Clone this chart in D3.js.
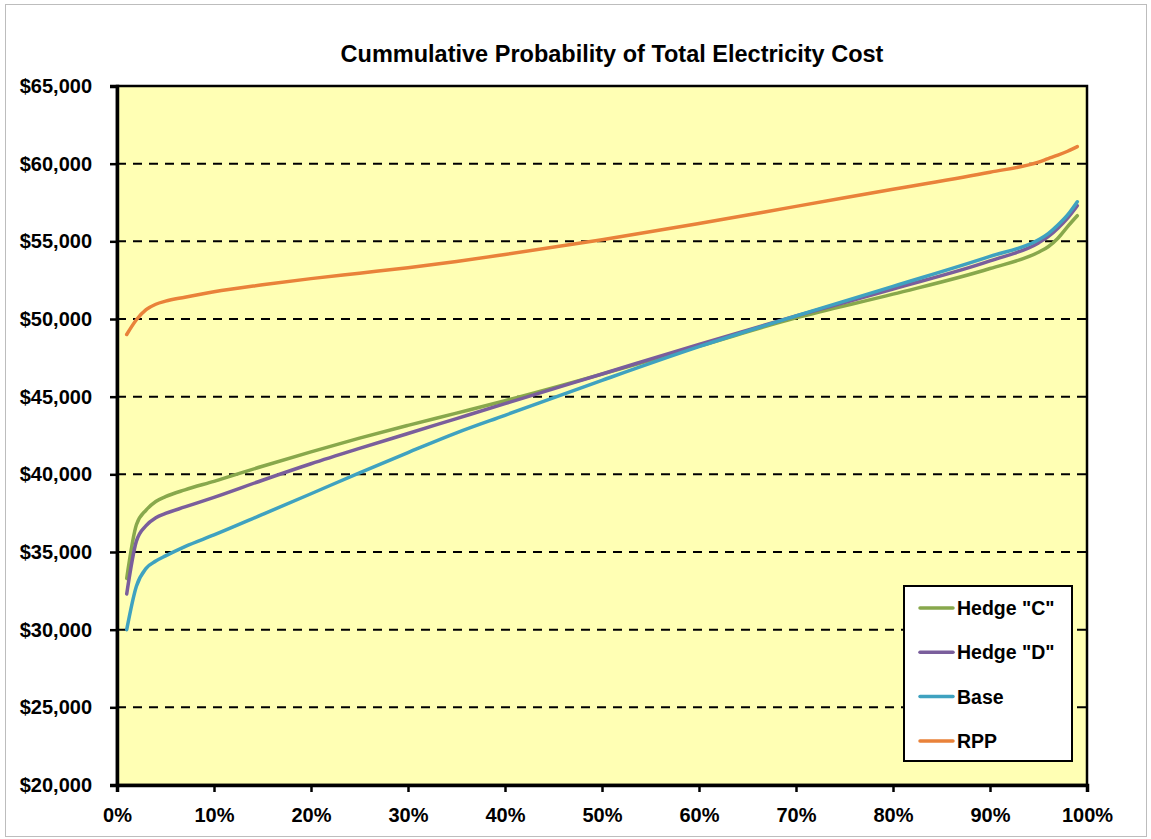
<!DOCTYPE html>
<html>
<head>
<meta charset="utf-8">
<script src="https://cdn.jsdelivr.net/npm/d3@7"></script>
<style>
  html, body { margin: 0; padding: 0; background: #fff; }
  svg { display: block; }
  text { font-family: Arial, "Liberation Sans", sans-serif; font-weight: bold; fill: #000; }
</style>
</head>
<body>
<svg id="chart" width="1151" height="839"></svg>
<script>
// ---- Data ----
const percentiles = [1, 2, 3, 4, 5, 7, 10, 15, 20, 25, 30, 35, 40, 50, 60, 70, 80, 90, 95, 96, 97, 98, 99];
const hedgeC = [33300, 36750, 37700, 38250, 38560, 39000, 39550, 40520, 41450, 42330, 43150, 43940, 44740, 46450, 48250, 50070, 51600, 53250, 54300, 54650, 55200, 55950, 56650];
const hedgeD = [32300, 35700, 36700, 37200, 37480, 37900, 38520, 39620, 40680, 41670, 42630, 43590, 44550, 46460, 48370, 50200, 51930, 53740, 54900, 55300, 55850, 56500, 57300];
const base   = [30000, 32800, 33950, 34420, 34750, 35350, 36100, 37420, 38750, 40100, 41400, 42670, 43800, 46050, 48220, 50200, 52100, 54030, 55100, 55500, 56050, 56700, 57550];
const rpp    = [49000, 49950, 50600, 50950, 51150, 51400, 51750, 52200, 52600, 52950, 53300, 53700, 54150, 55100, 56150, 57250, 58350, 59450, 60100, 60330, 60550, 60800, 61100];
const seriesNames = ['Hedge "C"', 'Hedge "D"', 'Base', 'RPP'];
const seriesColors = ['#88A84C', '#7A5E9C', '#3FA2C0', '#E9823A'];
const yTicks = [20000, 25000, 30000, 35000, 40000, 45000, 50000, 55000, 60000, 65000];
const xTicks = [0, 10, 20, 30, 40, 50, 60, 70, 80, 90, 100];
const titleText = 'Cummulative Probability of Total Electricity Cost';

const seriesValues = [hedgeC, hedgeD, base, rpp];

// ---- Layout ----
const svg = d3.select('#chart');
const plot = { left: 117, right: 1087, top: 86, bottom: 785 };

const x = d3.scaleLinear().domain([0, 100]).range([plot.left, plot.right]);
const y = d3.scaleLinear().domain([20000, 65000]).range([plot.bottom, plot.top]);

// outer border
svg.append('rect').attr('x', 5.5).attr('y', 4.5).attr('width', 1141).attr('height', 832)
  .attr('fill', '#fff').attr('stroke', '#BDBDBD').attr('stroke-width', 1);

// title
svg.append('text').attr('x', 612).attr('y', 62).attr('text-anchor', 'middle')
  .style('font-size', '23.5px').text(titleText);

// plot background
svg.append('rect').attr('x', plot.left).attr('y', plot.top)
  .attr('width', plot.right - plot.left).attr('height', plot.bottom - plot.top)
  .attr('fill', '#FFFFB4');

// gridlines
svg.append('g').selectAll('line').data(yTicks.filter(v => v > 20000 && v < 65000)).join('line')
  .attr('x1', plot.left).attr('x2', plot.right)
  .attr('y1', d => y(d)).attr('y2', d => y(d))
  .attr('stroke', '#000').attr('stroke-width', 2).attr('stroke-dasharray', '9,7');

// plot border (top & right)
svg.append('rect').attr('x', plot.left).attr('y', plot.top)
  .attr('width', plot.right - plot.left).attr('height', plot.bottom - plot.top)
  .attr('fill', 'none').attr('stroke', '#000').attr('stroke-width', 2.5);

// lines
const line = d3.line().x(d => x(d[0])).y(d => y(d[1])).curve(d3.curveMonotoneX);
seriesValues.forEach((vals, i) => {
  svg.append('path')
    .datum(percentiles.map((p, j) => [p, vals[j]]))
    .attr('d', line)
    .attr('fill', 'none')
    .attr('stroke', seriesColors[i])
    .attr('stroke-width', 3.5)
    .attr('stroke-linecap', 'round')
    .attr('stroke-linejoin', 'round');
});

// axes
const fmtY = d => '$' + d3.format(',')(d);
const yAxis = d3.axisLeft(y).tickValues(yTicks).tickFormat(fmtY).tickSize(7).tickPadding(18);
const gy = svg.append('g').attr('transform', `translate(${plot.left},0)`).call(yAxis);
gy.select('.domain').attr('stroke', '#000').attr('stroke-width', 3.5);
gy.selectAll('.tick line').attr('stroke', '#000').attr('stroke-width', 2.5);
gy.selectAll('.tick text').style('font-size', '20px').style('font-family', 'Arial, "Liberation Sans", sans-serif').style('font-weight', 'bold');

const xAxis = d3.axisBottom(x).tickValues(xTicks).tickFormat(d => d + '%').tickSize(7).tickPadding(16);
const gx = svg.append('g').attr('transform', `translate(0,${plot.bottom})`).call(xAxis);
gx.select('.domain').attr('stroke', '#000').attr('stroke-width', 3.5);
gx.selectAll('.tick line').attr('stroke', '#000').attr('stroke-width', 2.5);
gx.selectAll('.tick text').style('font-size', '20px').style('font-family', 'Arial, "Liberation Sans", sans-serif').style('font-weight', 'bold');

// legend
const lg = svg.append('g');
lg.append('rect').attr('x', 904).attr('y', 586).attr('width', 168).attr('height', 175)
  .attr('fill', '#fff').attr('stroke', '#000').attr('stroke-width', 2);
seriesNames.forEach((name, i) => {
  const yy = 608 + i * 44.3;
  lg.append('line').attr('x1', 920).attr('x2', 953).attr('y1', yy).attr('y2', yy)
    .attr('stroke', seriesColors[i]).attr('stroke-width', 3.5).attr('stroke-linecap', 'round');
  lg.append('text').attr('x', 957).attr('y', yy + 7).style('font-size', '19.5px').text(name);
});
</script>
</body>
</html>
